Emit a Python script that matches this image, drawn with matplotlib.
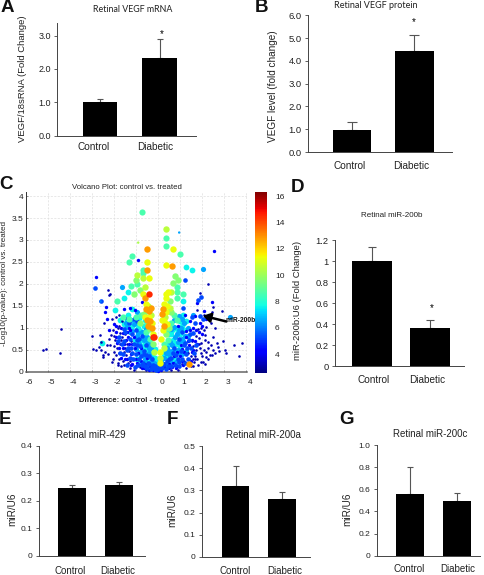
import numpy as np
import matplotlib
matplotlib.use("Agg")
import matplotlib.pyplot as plt
from matplotlib.cm import ScalarMappable
from matplotlib.colors import Normalize

W, H = 484, 575
plt.rcParams["font.family"] = ["Liberation Sans", "DejaVu Sans"]

groups = ["Control", "Diabetic"]

# bar values and top of the error bar
vegf_mrna = [1.0, 2.32]
vegf_mrna_top = [1.1, 2.9]
vegf_protein = [0.97, 4.45]
vegf_protein_top = [1.33, 5.15]
mir200b = [1.0, 0.36]
mir200b_top = [1.14, 0.44]
mir429 = [0.247, 0.258]
mir429_top = [0.258, 0.268]
mir200a = [0.32, 0.263]
mir200a_top = [0.41, 0.295]
mir200c = [0.555, 0.49]
mir200c_top = [0.805, 0.565]

# volcano points: (difference, -log10 p), one list per colour level
navy = [(-5.2, .49), (-5.06, .51), (-4.42, .42), (-4.38, .97), (-2.26, 1.85), (-2.22, 1.75), (-2.18, 1.76),
        (-2.45, 1.1), (-2.97, .82), (-2.64, .83), (-2.59, .68), (-2.68, .56), (-2.94, .51), (-2.83, .5),
        (-2.6, .5), (-2.42, .45), (-2.27, .41), (-2.5, .37), (-2.5, .33), (-2.09, .22), (-1.97, .45),
        (-2.15, .6), (-2.12, .83), (-1.75, .3), (-1.6, .25), (-1.45, .38), (-1.85, .55), (-1.7, .62),
        (-1.95, .72), (-1.62, .78), (-1.5, .55), (-1.35, .2), (-1.3, .48), (-1.8, .2), (-1.55, .45),
        (-2.05, .95), (-1.78, 1.05), (-1.9, 1.25), (-2.1, 1.2), (-1.2, .7), (-1.72, .88), (-1.09, .03),
        (.9, .03), (3.45, .61), (3.83, .65), (3.68, .36), (3.05, .49), (3.09, .43), (2.97, .71), (2.74, .57),
        (2.79, .47), (2.52, .49), (2.36, .38), (2.06, .23), (2.21, .34), (2.67, .65), (2.52, .8), (2.29, .68),
        (1.98, .65), (2.14, .84), (2.29, 2.0), (1.91, 1.8), (2.92, 1.38), (2.52, 1.48), (2.3, 1.25), (2.42, 1.1),
        (2.6, 1.0), (2.2, 1.02), (1.95, .42), (1.8, .3), (1.65, .22), (1.5, .36), (1.75, .5), (1.6, .58),
        (1.88, .76), (1.45, .18), (2.1, .5), (2.3, .55), (1.35, .42), (1.2, .25), (1.1, .18), (1.55, .7),
        (.6, .05), (.42, .08), (-.55, .05), (-.8, .1), (-1.0, .12), (1.78, 1.4), (2.08, 1.3), (2.44, 1.35),
        (-2.3, .6), (-2.05, .3), (-1.98, .58), (-1.9, .38), (-1.82, .15), (-1.78, .42), (-1.68, .12), (-1.65, .72),
        (-1.55, .15), (-1.5, .85), (-1.42, .62), (-1.28, .08), (-1.25, .25), (-2.2, .75), (-1.98, .82), (-1.8, 1.0),
        (-1.62, 1.15), (-1.75, 1.3), (1.92, .55), (2.02, .36), (2.12, .72), (2.18, .45), (2.28, .28), (2.4, .6),
        (2.48, .38), (2.6, .42), (1.82, .15), (1.7, .35), (1.58, .3), (1.52, .12), (1.4, .28), (1.88, .62),
        (1.72, .82), (1.95, 1.0), (2.1, .95), (1.82, .98), (1.68, .28), (1.28, .08), (1.62, .12), (2.15, .18),
        (1.95, .22)]
blue = [(-2.82, 2.16), (-.88, 2.54), (2.55, 2.75), (-2.36, 1.48), (-2.4, 1.37), (-2.3, 1.2), (-2.0, 1.08),
        (-2.2, .95), (-1.9, .9), (-1.65, 1.0), (-1.85, .65), (-1.6, .55), (-1.45, .72), (-1.4, .9), (-1.25, .95),
        (-1.3, .62), (-1.2, .4), (-1.05, .55), (-1.1, .8), (-1.0, .28), (-.9, .42), (-1.4, .3), (-1.15, .18),
        (-.75, .25), (-.6, .18), (-.35, .12), (-.2, .04), (0, .02), (.15, .05), (.3, .1), (.5, .18),
        (.7, .2), (.85, .12), (1.0, .35), (1.2, .45), (1.4, .6), (1.3, .8), (1.55, .45), (1.7, .7), (1.85, .9),
        (1.6, 1.0), (2.0, .85), (2.2, 1.2), (2.44, 1.58), (1.76, 1.56), (1.05, .6), (.85, .45), (1.15, .15),
        (2.0, 1.05), (1.45, 1.15), (1.25, 1.3), (-.7, 1.58), (-1.05, 1.4), (-1.25, 1.45), (-1.55, 1.42),
        (-1.5, 1.22), (.9, 1.05), (.75, .35), (-.5, .32), (-.75, .55),
        (-1.88, .78), (-1.75, .55), (-1.68, .32), (-1.52, .62), (-1.48, .28), (-1.35, .78), (-1.32, 1.0),
        (-1.18, .62), (-1.58, .88), (-1.92, 1.05), (1.35, .7), (1.48, .95), (1.52, .25), (1.62, .5), (1.75, .95),
        (1.8, .62), (1.92, 1.12), (2.1, 1.38), (1.7, 1.28), (1.55, .72), (1.12, .52), (1.08, .25), (1.28, .92),
        (.82, .08), (.65, .1), (.5, .08), (-.65, .08), (-.42, .05), (-.72, .08), (-.95, .2), (-1.22, .15)]
mid_blue = [(-2.85, 1.91), (1.24, 2.1), (-2.6, 1.6), (-1.55, .98), (-1.75, .78), (-1.3, 1.1), (-1.1, 1.2),
            (-1.0, .95), (-.85, .75), (-.95, .6), (-.85, .3), (-.65, .4), (-.7, .15), (-.45, .2), (-.25, .1),
            (-.12, .07), (.05, .1), (.22, .18), (.4, .25), (.6, .32), (.75, .55), (.95, .75), (1.1, .9),
            (1.25, .65), (1.45, .85), (1.3, .4), (.95, .22), (1.7, 1.1), (1.98, 1.71), (1.83, 1.63), (2.03, 1.2),
            (1.9, 1.28), (1.55, 1.25), (1.15, 1.45), (-.95, 1.15), (-1.15, .42), (-1.25, .75), (-.55, .6),
            (-1.55, .7), (-1.42, .5), (-1.38, .15), (-1.28, .32), (-1.22, .55), (-1.18, .85), (-1.12, .3),
            (-1.08, .62), (-1.03, .1), (-.98, .4), (-.93, .72), (-.88, .15), (-.82, .58), (-.78, .35), (-.72, .82),
            (-.68, .2), (-.63, .48), (-.58, .12), (-.52, .38), (-.47, .08), (-.42, .18), (-.38, .36), (-.32, .06),
            (-.28, .28), (-.22, .15), (-.15, .12), (-.08, .05), (.02, .06), (.08, .14), (.18, .09), (.28, .18),
            (.36, .06), (.45, .14), (.52, .3), (.6, .14), (.68, .42), (.78, .15), (.82, .38), (.92, .3), (.98, .12),
            (1.05, .48), (1.12, .3), (1.18, .6), (1.25, .2), (1.32, .55), (1.38, .3), (1.42, .72), (1.5, .55),
            (1.58, .88), (1.65, .42), (1.72, .6), (-1.35, .55), (-1.48, .9), (-1.62, .62), (-1.7, .42), (-1.8, .7),
            (-1.58, .4)]
sky = [(2.03, 2.34), (-1.62, 1.92), (-1.2, 1.18), (-1.45, 1.1), (-.95, .82), (-.7, .9), (-.55, .78), (-.8, .45),
       (-.6, .28), (-.4, .42), (-.3, .22), (-.18, .2), (.1, .2), (.3, .32), (.5, .4), (.65, .6), (.85, .85),
       (1.05, 1.0), (1.2, 1.1), (.9, .5), (1.08, .4), (1.35, 1.0), (1.6, 1.3), (3.3, 1.25), (1.15, .7), (-.3, .55),
       (-.45, .65), (.4, .55), (.55, .22),
       (-1.15, .92), (-1.08, 1.08), (-.98, .52), (-.9, .88), (-.85, .62), (-.78, .2), (-.72, .45), (-.65, .72),
       (-.6, .35), (-.55, .98), (-.48, .8), (-.42, .55), (-.38, .15), (-.3, .32), (-.25, .62), (-.2, .08),
       (-.12, .18), (-.06, .12), (.05, .18), (.12, .12), (.2, .3), (.32, .18), (.38, .42), (.48, .5), (.55, .68),
       (.6, .42), (.7, .5), (.78, .78), (.82, .22), (.9, .68), (.95, .95), (1.02, .42), (1.1, .75), (1.12, 1.2),
       (1.22, .82), (1.28, .48), (1.38, .82), (.72, 1.02), (.58, .98), (-.95, 1.35), (-1.28, .9), (-1.42, 1.02),
       (.98, 1.28), (.75, 1.18)]
cyan = [(1.53, 2.32), (1.3, 2.38), (-1.35, 1.82), (-1.53, 1.69), (1.15, 1.6), (-2.55, .65), (-1.95, 1.4),
        (-1.7, 1.18), (-1.55, 1.08), (-1.35, 1.3), (-1.15, 1.05), (-.9, 1.0), (-.75, .72), (-1.05, .72),
        (-.65, .6), (-.95, .3), (-.5, .5), (-.42, .3), (-.25, .38), (-.15, .32), (.15, .28), (.25, .45),
        (.45, .35), (.7, .72), (.85, .62), (1.0, .85), (.8, 1.0), (1.0, 1.15), (1.2, .95), (1.3, 1.15),
        (.6, .85), (.75, .3), (1.0, .55), (-.65, 1.05), (-.85, 1.22), (-.5, .18), (1.15, 1.3),
        (-1.0, 1.1), (-.92, .68), (-.82, .92), (-.75, .38), (-.68, .52), (-.6, .78), (-.58, .22), (-.5, .72),
        (-.45, .98), (-.38, .6), (-.3, .42), (-.22, .28), (-.15, .52), (-.05, .2), (.05, .26), (.18, .18),
        (.3, .4), (.4, .15), (.5, .62), (.58, .3), (.65, .95), (.72, .62), (.8, .48), (.92, .9), (1.02, .7),
        (1.1, 1.05), (-1.18, 1.42), (-1.42, 1.15), (-.6, 1.18), (.52, .85), (.42, .95)]
teal = [(-.7, 3.63), (.39, 3.05), (.35, 2.87), (1.02, 2.67), (-1.18, 2.64), (-1.33, 2.49), (-.67, 2.32),
        (-.67, 2.24), (-.94, 2.0), (-1.2, 1.95), (.85, 1.92), (.89, 1.81), (.89, 1.69), (1.15, 1.78),
        (-1.85, 1.62), (-1.6, 1.25), (-1.3, 1.2), (-1.0, 1.25), (-.75, 1.3), (-.5, 1.12), (.75, 1.3),
        (.62, 1.12), (.85, 1.18), (-.55, .9), (-.35, .75), (.45, .72), (.3, .62)]
green = [(-1.08, 1.76), (-.82, 1.86), (.7, 2.03), (.79, 2.19), (.91, 2.1), (.56, 1.6), (-.97, 2.09), (-.62, 1.32),
         (-.82, 1.1), (.62, 1.35), (.5, 1.0), (-.35, .98), (.35, .85), (-.2, .62)]
lime = [(.39, 3.25), (-.67, 2.13), (-.94, 2.2), (-.58, 1.94), (.59, 1.82), (-.45, 1.5), (.55, 1.45), (.32, 1.25),
        (-.3, 1.3), (.3, .55), (-.18, .45), (.12, .32)]
yellow = [(.67, 2.8), (-.5, 2.49), (.39, 2.44), (-.39, 2.14), (.47, 1.82), (.39, 1.78), (.35, 1.67), (.28, 1.55),
          (-.67, 1.77), (-.55, 1.55), (-.42, 1.25), (-.25, 1.1), (.2, 1.18), (.42, 1.08), (.38, 1.35), (.16, .75),
          (.1, .2), (.12, .45), (-.22, .85), (.22, .95), (-.6, 1.25), (.3, 1.15), (.42, 1.5)]
orange = [(-.5, 2.79), (.64, 2.41), (-.48, 2.32), (-.59, 1.67), (-.52, 1.42), (-.42, 1.38), (-.3, 1.45), (.25, 1.42),
          (.18, 1.32), (-.28, 1.0), (.3, 1.05), (-.35, 1.15), (1.4, .18), (-.5, 1.18), (-.45, 1.05)]
red = [(-.39, 1.78), (-.24, .8), (-.18, .78)]
dots = [(-.89, 2.94), (.97, 3.17), (-2.6, 1.6)]

# painted in this order, so the blue levels sit over the cyan ones near the base
level_points = [cyan, sky, navy, blue, mid_blue, teal, green, lime, yellow, orange, red]
level_signal = [7.6, 6.5, 3.2, 4.2, 5.3, 8.6, 9.6, 10.5, 11.3, 12.8, 14.5]
dots_signal = [10.2, 6.5, 6.0]

x_ticks = [-6, -5, -4, -3, -2, -1, 0, 1, 2, 3, 4]
y_ticks = [0, 0.5, 1, 1.5, 2, 2.5, 3, 3.5, 4]
bar_ticks_mrna = [0, 1, 2, 3]
bar_ticks_protein = [0, 1, 2, 3, 4, 5, 6]
bar_ticks_200b = [0, 0.2, 0.4, 0.6, 0.8, 1, 1.2]
bar_ticks_429 = [0, 0.1, 0.2, 0.3, 0.4]
bar_ticks_200a = [0, 0.1, 0.2, 0.3, 0.4, 0.5]
bar_ticks_200c = [0, 0.2, 0.4, 0.6, 0.8, 1.0]
color_ticks = [4, 6, 8, 10, 12, 14, 16]

fig = plt.figure(figsize=(W / 100, H / 100), dpi=100)


def px_text(x, y, s, **kw):
    kw.setdefault("ha", "center")
    kw.setdefault("va", "center")
    fig.text(x / W, 1 - y / H, s, **kw)


def px_axes(left, top, right, bottom):
    return fig.add_axes([left / W, 1 - bottom / H, (right - left) / W, (bottom - top) / H])


def bar_panel(vals, tops, ticks, labels, left, right, base, tick_y, tick_val, ymax, bar0, bar1, cap, tick_size):
    """Bar panel placed by pixels: bar0/bar1 are (left, right) of each bar."""
    scale = (base - tick_y) / tick_val
    ax = px_axes(left, base - ymax * scale, right, base)
    c0, c1 = sum(bar0) / 2, sum(bar1) / 2
    step = c1 - c0
    ax.bar([0, 1], vals, width=(bar0[1] - bar0[0]) / step, color="black", zorder=2)
    ax.errorbar([0, 1], vals, yerr=[[0, 0], np.subtract(tops, vals)], fmt="none", ecolor="#555555",
                elinewidth=0.8, capsize=cap, capthick=0.8, zorder=1)
    ax.set_xlim((left - c0) / step, (right - c0) / step)
    ax.set_ylim(0, ymax)
    ax.set_yticks(ticks)
    ax.set_yticklabels(labels, fontsize=tick_size, color="#222222")
    ax.set_xticks([])
    ax.tick_params(axis="y", length=2.5, width=0.6, pad=2, color="#444444")
    for side in ["top", "right"]:
        ax.spines[side].set_visible(False)
    for side in ["left", "bottom"]:
        ax.spines[side].set_linewidth(0.7)
        ax.spines[side].set_color("#444444")
    return ax


# A
bar_panel(vegf_mrna, vegf_mrna_top, bar_ticks_mrna, ["0.0", "1.0", "2.0", "3.0"], 57, 196, 135.5, 35.7, 3, 3.37,
          (82.5, 117), (142, 177), 2.2, 6.5)
px_text(133, 9.5, "Retinal VEGF mRNA", fontsize=6.4, family="Lato", color="#222222")
px_text(23, 79, "VEGF/18sRNA (Fold Change)", fontsize=6.8, rotation=90, color="#222222")
px_text(94, 147, groups[0], fontsize=7.2, color="#222222")
px_text(155, 147, groups[1], fontsize=7.2, color="#222222")
px_text(162, 34, "*", fontsize=7)

# B
bar_panel(vegf_protein, vegf_protein_top, bar_ticks_protein, ["0.0", "1.0", "2.0", "3.0", "4.0", "5.0", "6.0"],
          307.7, 452, 152, 15.3, 6, 6.0, (332.7, 371), (396, 432.7), 3.5, 6.8)
px_text(376, 5.5, "Retinal VEGF protein", fontsize=6.5, family="Lato", color="#222222")
px_text(273, 86, "VEGF level (fold change)", fontsize=7.2, rotation=90, color="#222222")
px_text(350, 166, groups[0], fontsize=7.2, color="#222222")
px_text(411, 166, groups[1], fontsize=7.2, color="#222222")
px_text(414, 22, "*", fontsize=7)

# C
jet = plt.get_cmap("jet")
norm = Normalize(2.56, 16.33)
ax = px_axes(25.7, 191.7, 247, 371.7)
diam = [5.8, 5.2, 2.6, 3.4, 4.6, 6.2, 6.4, 6.4, 6.4, 6.4, 6.4]
for pts, sig, d in zip(level_points, level_signal, diam):
    dx, lp = zip(*pts)
    ax.scatter(dx, lp, s=(d * 0.72) ** 2, c=[jet(norm(sig))], linewidths=0, zorder=3, clip_on=False)
dx, lp = zip(*dots)
ax.scatter(dx, lp, s=(2.4 * 0.72) ** 2, c=dots_signal, cmap=jet, norm=norm, linewidths=0, zorder=4)
ax.set_xlim(-6, 4.05)
ax.set_ylim(0, 4.1)
ax.set_xticks(x_ticks)
ax.set_yticks(y_ticks)
ax.set_yticklabels(["0", "0.5", "1", "1.5", "2", "2.5", "3", "3.5", "4"], fontsize=6, color="#222222")
ax.set_xticklabels([])
ax.tick_params(length=1.5, width=0.4, direction="in", color="#444444", pad=1.5)
ax.grid(True, linestyle=(0, (3, 2)), linewidth=0.5, color="#dedede", zorder=0)
ax.set_axisbelow(True)
for side in ["top", "right"]:
    ax.spines[side].set_visible(False)
ax.spines["left"].set_linewidth(0.7)
ax.spines["left"].set_color("#333333")
ax.spines["bottom"].set_linewidth(1.1)
ax.spines["bottom"].set_color("#666666")
for t in x_ticks:
    px_text(25.7 + (t + 6) * 22 + 4, 382.5, str(t), fontsize=6, color="#222222")
px_text(127, 187.5, "Volcano Plot: control vs. treated", fontsize=5.6, color="#222222")
px_text(5, 283, "-Log10(p-value): control vs. treated", fontsize=5.8, rotation=90, color="#222222")
px_text(129, 400, "Difference: control - treated", fontsize=5.5, weight="bold", color="#222222")
px_text(241, 321, "miR-200b", fontsize=4.8, weight="bold", color="#111111")
ax.annotate("", xy=((203 - 158) / 22, (371.7 - 315.7) / 43.9), xytext=((226.5 - 158) / 22, (371.7 - 321.5) / 43.9),
            arrowprops=dict(arrowstyle="-|>,head_width=0.28,head_length=0.45", color="black", lw=1.8,
                            shrinkA=0, shrinkB=0), zorder=6)

cax = px_axes(255, 191.7, 266.7, 373)
cb = fig.colorbar(ScalarMappable(norm=norm, cmap=jet), cax=cax)
cb.set_ticks(color_ticks)
cb.ax.tick_params(length=0, labelsize=6, pad=6, labelcolor="#222222")
cb.outline.set_visible(False)

# D
bar_panel(mir200b, mir200b_top, bar_ticks_200b, ["0", "0.2", "0.4", "0.6", "0.8", "1", "1.2"], 334.7, 464, 366,
          240.3, 1.2, 1.2, (352.3, 392), (410, 450), 3, 6.7)
px_text(391.7, 215.7, "Retinal miR-200b", fontsize=5.8, color="#222222")
px_text(298, 300.5, "miR-200b:U6 (Fold Change)", fontsize=6.8, rotation=90, color="#222222")
px_text(374, 380, groups[0], fontsize=7.2, color="#222222")
px_text(427, 380, groups[1], fontsize=7.2, color="#222222")
px_text(432, 308, "*", fontsize=7)

# E
bar_panel(mir429, mir429_top, bar_ticks_429, ["0", "0.1", "0.2", "0.3", "0.4"], 38.7, 145, 556, 445.7, 0.4, 0.4,
          (58.3, 85.7), (105.3, 132.7), 2.2, 6)
px_text(91, 434.5, "Retinal miR-429", fontsize=7, color="#222222")
px_text(12, 509.5, "miR/U6", fontsize=7.2, rotation=90, color="#222222")
px_text(70, 571, groups[0], fontsize=7, color="#222222")
px_text(118, 571, groups[1], fontsize=7, color="#222222")

# F
bar_panel(mir200a, mir200a_top, bar_ticks_200a, ["0", "0.1", "0.2", "0.3", "0.4", "0.5"], 201.7, 310, 556.7, 446.3,
          0.5, 0.5, (221.7, 249.3), (268.3, 296), 2.2, 6)
px_text(263, 435, "Retinal miR-200a", fontsize=7, color="#222222")
px_text(172, 510, "miR/U6", fontsize=7.2, rotation=90, color="#222222")
px_text(235, 570.5, groups[0], fontsize=7, color="#222222")
px_text(285, 570.5, groups[1], fontsize=7, color="#222222")

# G
bar_panel(mir200c, mir200c_top, bar_ticks_200c, ["0", "0.2", "0.4", "0.6", "0.8", "1.0"], 376.7, 480, 555.7, 445,
          1.0, 1.0, (396, 423.7), (443.3, 470.7), 2.2, 6)
px_text(430, 434, "Retinal miR-200c", fontsize=7, color="#222222")
px_text(347, 509, "miR/U6", fontsize=7.2, rotation=90, color="#222222")
px_text(409, 569, groups[0], fontsize=7, color="#222222")
px_text(458, 569, groups[1], fontsize=7, color="#222222")

for letter, x, y in [("A", 7.5, 8), ("B", 261, 8), ("C", 6, 185), ("D", 297.5, 187), ("E", 5, 420), ("F", 172, 420),
                     ("G", 346.5, 420)]:
    px_text(x, y, letter, fontsize=13.5, weight="bold", color="#111111")

fig.savefig("out.png", dpi=100)
